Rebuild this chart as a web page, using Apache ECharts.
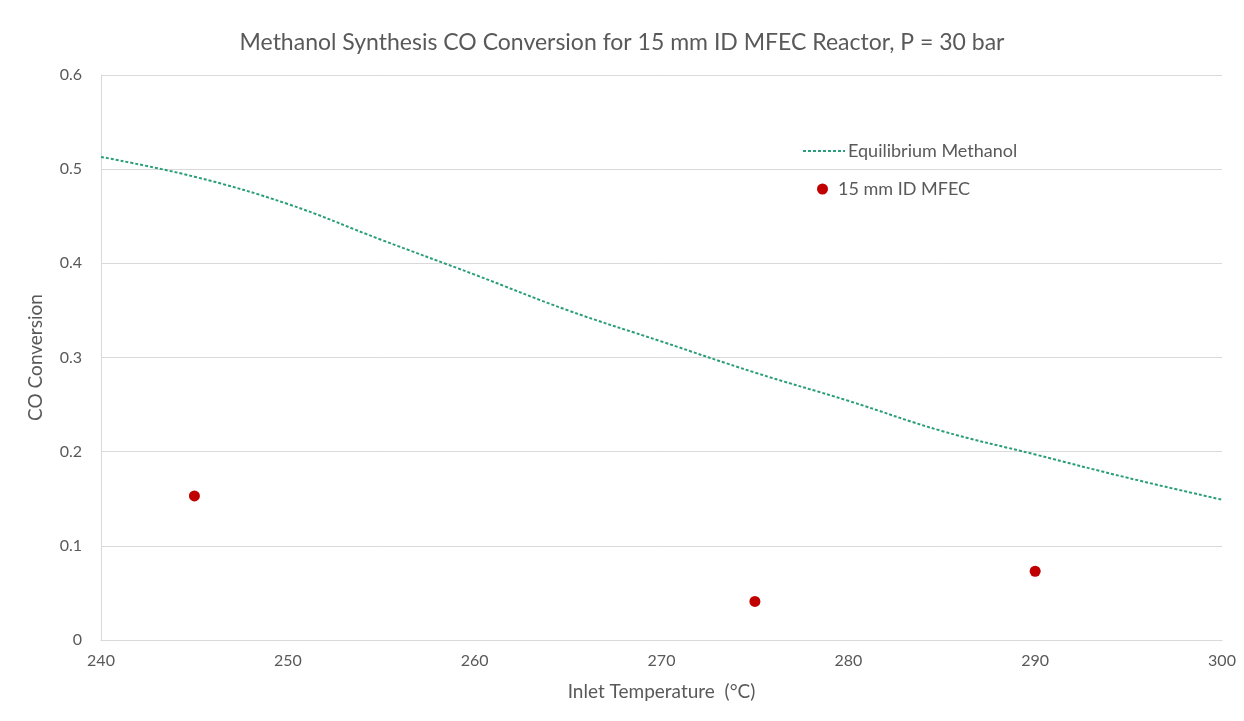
<!DOCTYPE html>
<html>
<head>
<meta charset="utf-8">
<script src="https://cdn.jsdelivr.net/npm/echarts@6/dist/echarts.min.js"></script>
<style>
  html, body { margin: 0; padding: 0; background: #fff; }
  #chart { width: 1244px; height: 721px; }
</style>
</head>
<body>
<div id="chart"></div>
<script>
// Equilibrium CO conversion curve (inlet temperature in °C)
const eqTemps = [240, 245, 250, 255, 260, 265, 270, 275, 280, 285, 290, 295, 300];
const eqConversion = [0.513, 0.492, 0.463, 0.425, 0.388, 0.350, 0.317, 0.284, 0.254, 0.222, 0.197, 0.172, 0.149];

// Measured CO conversion for the 15 mm ID MFEC reactor
const mfecTemps = [245, 275, 290];
const mfecConversion = [0.153, 0.041, 0.073];

const textColor = '#595959';
const gridColor = '#d9d9d9';
const lineColor = '#2a9e7a';
const dotColor = '#c00000';
const fontFamily = 'Lato, "Noto Sans", sans-serif';

// Short dashed stroke used as the legend sample for the equilibrium curve
function dashedIcon(width, dash, gap) {
  let d = '';
  for (let x = 0; x < width; x += dash + gap) {
    const w = Math.min(dash, width - x);
    d += 'M' + x + ',0 L' + (x + w) + ',0 L' + (x + w) + ',2 L' + x + ',2 Z ';
  }
  return 'path://' + d.trim();
}

const chart = echarts.init(document.getElementById('chart'), null, { renderer: 'canvas' });

chart.setOption({
  backgroundColor: '#ffffff',
  animation: false,
  textStyle: { fontFamily: fontFamily, color: textColor },
  title: {
    text: 'Methanol Synthesis CO Conversion for 15 mm ID MFEC Reactor, P = 30 bar',
    left: 'center',
    top: 26,
    textStyle: { fontFamily: fontFamily, fontSize: 23, fontWeight: 'normal', color: textColor }
  },
  grid: { left: 101, right: 22, top: 75, bottom: 81, containLabel: false },
  legend: [
    {
      data: [{ name: 'Equilibrium Methanol', icon: dashedIcon(42, 3, 2), itemStyle: { color: lineColor } }],
      orient: 'vertical',
      left: 803,
      top: 142,
      padding: 0,
      itemWidth: 42,
      itemHeight: 4,
      textStyle: { fontFamily: fontFamily, fontSize: 18, color: textColor, padding: [0, 0, 0, -2] }
    },
    {
      data: ['15 mm ID MFEC'],
      orient: 'vertical',
      left: 817,
      top: 180,
      padding: 0,
      itemWidth: 11,
      itemHeight: 11,
      textStyle: { fontFamily: fontFamily, fontSize: 18, color: textColor, padding: [0, 0, 0, 5] }
    }
  ],
  xAxis: {
    type: 'value',
    min: 240,
    max: 300,
    interval: 10,
    name: 'Inlet Temperature  (°C)',
    nameLocation: 'middle',
    nameGap: 42,
    nameTextStyle: { fontFamily: fontFamily, fontSize: 19, color: textColor },
    axisLine: { show: true, lineStyle: { color: gridColor, width: 1 } },
    axisTick: { show: false },
    axisLabel: { fontFamily: fontFamily, fontSize: 16, color: textColor, margin: 13 },
    splitLine: { show: false }
  },
  yAxis: {
    type: 'value',
    min: 0,
    max: 0.6,
    interval: 0.1,
    name: 'CO Conversion',
    nameLocation: 'middle',
    nameGap: 56,
    nameRotate: 90,
    nameTextStyle: { fontFamily: fontFamily, fontSize: 19, color: textColor },
    axisLine: { show: true, lineStyle: { color: gridColor, width: 1 } },
    axisTick: { show: false },
    axisLabel: {
      fontFamily: fontFamily, fontSize: 16, color: textColor, margin: 19,
      formatter: function (v) { return v === 0 ? '0' : v.toFixed(1); }
    },
    splitLine: { show: true, lineStyle: { color: gridColor, width: 1 } }
  },
  series: [
    {
      name: 'Equilibrium Methanol',
      type: 'line',
      data: eqTemps.map((t, i) => [t, eqConversion[i]]),
      smooth: 0.4,
      symbol: 'none',
      showSymbol: false,
      itemStyle: { color: lineColor },
      lineStyle: { color: lineColor, width: 2, type: [3, 2] },
      z: 2
    },
    {
      name: '15 mm ID MFEC',
      type: 'scatter',
      data: mfecTemps.map((t, i) => [t, mfecConversion[i]]),
      symbol: 'circle',
      symbolSize: 11,
      itemStyle: { color: dotColor, opacity: 1 },
      z: 3
    }
  ]
});
</script>
</body>
</html>
